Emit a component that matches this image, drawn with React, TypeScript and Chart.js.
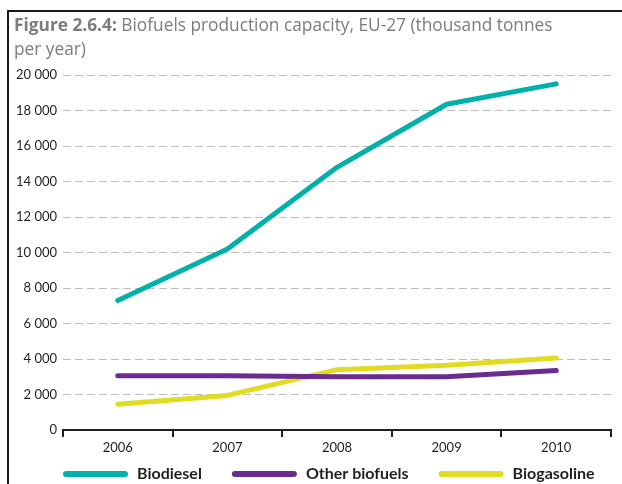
import React, { useEffect, useRef } from "react";
import { Chart, registerables } from "chart.js";

Chart.register(...registerables);

const years = ["2006", "2007", "2008", "2009", "2010"];
const biodiesel = [7300, 10200, 14800, 18350, 19500];
const otherBiofuels = [3050, 3050, 3000, 3000, 3350];
const biogasoline = [1450, 1950, 3400, 3650, 4050];
const seriesLabels = ["Biodiesel", "Other biofuels", "Biogasoline"];
const seriesColors = ["#00b1a9", "#6a2d8f", "#e1dc21"];
const yMax = 20000;
const yStep = 2000;
const titleBold = "Figure 2.6.4:";
const titleRest = " Biofuels production capacity, EU-27 (thousand tonnes";
const titleLine2 = "per year)";

const W = 622;
const H = 484;
const INK = "#231f20";
const FONT = "Lato";

const decorPlugin = {
  id: "decor",
  afterDraw(chart: any) {
    const ctx = chart.ctx as CanvasRenderingContext2D;
    ctx.save();
    // frame
    ctx.fillStyle = "#1a1a1a";
    ctx.fillRect(7, 10, 2, chart.height - 10);
    ctx.fillRect(7, 10, chart.width - 7, 2);
    // title
    ctx.textBaseline = "alphabetic";
    ctx.textAlign = "left";
    ctx.fillStyle = "#7a7c7f";
    ctx.font = `bold 17.3px 'Open Sans'`;
    ctx.fillText(titleBold, 14, 31);
    const w = ctx.measureText(titleBold).width;
    ctx.font = `17.3px 'Open Sans'`;
    ctx.fillText(titleRest, 14 + w, 31);
    ctx.fillText(titleLine2, 14, 55);
    // legend
    const ly = 474;
    let x = chart.chartArea.left;
    ctx.font = `bold 16px ${FONT}`;
    ctx.textBaseline = "middle";
    chart.data.datasets.forEach((ds: any) => {
      ctx.strokeStyle = ds.borderColor;
      ctx.lineWidth = 6;
      ctx.lineCap = "round";
      ctx.beginPath();
      ctx.moveTo(x + 3, ly);
      ctx.lineTo(x + 62, ly);
      ctx.stroke();
      ctx.fillStyle = INK;
      const tx = x + 65 + 9;
      ctx.fillText(ds.label, tx, ly);
      x = tx + ctx.measureText(ds.label).width + 30;
    });
    ctx.restore();
  },
};

export default function App() {
  const ref = useRef<HTMLCanvasElement>(null);
  useEffect(() => {
    if (!ref.current) return;
    const seriesValues = [biodiesel, otherBiofuels, biogasoline];
    const chart = new Chart(ref.current, {
      type: "line",
      data: {
        labels: years,
        datasets: seriesLabels.map((label, i) => ({
          label,
          data: seriesValues[i],
          borderColor: seriesColors[i],
          backgroundColor: seriesColors[i],
          borderWidth: 5,
          pointRadius: 0,
          tension: 0,
          borderCapStyle: "round",
          borderJoinStyle: "round",
        })),
      },
      options: {
        responsive: false,
        animation: false,
        layout: { padding: { left: 0, top: 75, right: 11, bottom: 27 } },
        plugins: {
          legend: { display: false },
          title: { display: false },
          tooltip: { enabled: false },
        },
        scales: {
          x: {
            type: "category",
            offset: true,
            afterFit: (s: any) => {
              s.height = 27;
            },
            grid: {
              offset: true,
              drawOnChartArea: false,
              drawTicks: true,
              tickLength: 7,
              color: INK,
              lineWidth: 2,
            },
            border: { display: true, color: INK, width: 2 },
            ticks: {
              padding: 3,
              color: INK,
              font: { family: FONT, size: 13 },
              maxRotation: 0,
            },
          },
          y: {
            min: 0,
            max: yMax,
            afterFit: (s: any) => {
              s.width = 63;
            },
            grid: {
              drawTicks: false,
              color: (c: any) => (c.tick && c.tick.value === 0 ? "rgba(0,0,0,0)" : "#bdbdbd"),
              lineWidth: 1,
            },
            border: { display: false, dash: [8, 4] },
            ticks: {
              stepSize: yStep,
              padding: 6,
              color: INK,
              font: { family: FONT, size: 13 },
              callback: (v: any) => {
                const n = Number(v);
                if (n < 1000) return String(n);
                const th = Math.floor(n / 1000);
                return `${th} ${String(n % 1000).padStart(3, "0")}`;
              },
            },
          },
        },
      },
      plugins: [decorPlugin],
    } as any);
    return () => chart.destroy();
  }, []);
  return (
    <div style={{ position: "fixed", left: 0, top: 0, width: W, height: H, background: "#fff" }}>
      <canvas ref={ref} width={W} height={H} style={{ display: "block" }} />
    </div>
  );
}
